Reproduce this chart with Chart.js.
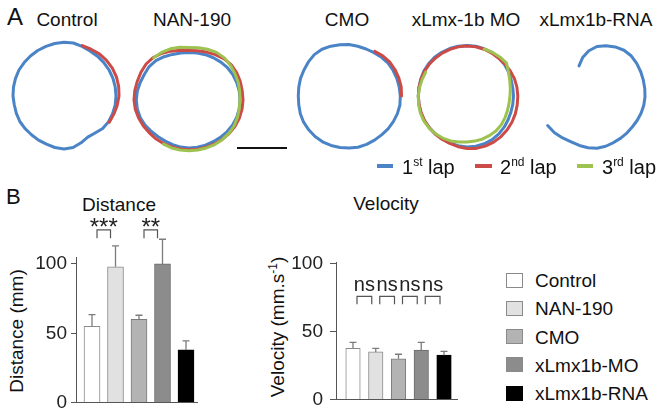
<!DOCTYPE html>
<html><head><meta charset="utf-8">
<script src="https://cdn.jsdelivr.net/npm/chart.js@4.4.0/dist/chart.umd.min.js"></script>
<style>
html,body{margin:0;padding:0;background:#fff;}
body{width:663px;height:418px;position:relative;overflow:hidden;font-family:"Liberation Sans",Arial,sans-serif;color:#111;}
.t{position:absolute;line-height:1;white-space:nowrap;}
.c{text-align:center;width:140px;}
canvas{position:absolute;}
.box{position:absolute;width:130px;height:130px;}
.box canvas{left:0;top:0;}
.sw{position:absolute;box-sizing:border-box;width:17px;height:15px;border:1px solid #888;}
.ln{position:absolute;height:4px;}
.sup{position:relative;top:-8px;font-size:12px;}
.rot{position:absolute;line-height:1;white-space:nowrap;transform:translate(-50%,-50%) rotate(-90deg);font-size:19px;}
</style></head><body>

<div class="t" style="left:7px;top:5px;font-size:24px">A</div>
<div class="t" style="left:6px;top:186px;font-size:22px">B</div>

<div class="t c" style="left:-3px;top:10px;font-size:19px">Control</div>
<div class="t c" style="left:122px;top:10px;font-size:19px">NAN-190</div>
<div class="t c" style="left:277px;top:10px;font-size:19px">CMO</div>
<div class="t c" style="left:396px;top:10px;font-size:19px">xLmx-1b MO</div>
<div class="t c" style="left:526px;top:10px;font-size:19px">xLmx1b-RNA</div>

<div class="box" id="a1" style="left:-1px;top:31px"></div>
<div class="box" id="a2" style="left:124px;top:35px"></div>
<div class="box" id="a3" style="left:284px;top:31px"></div>
<div class="box" id="a4" style="left:402px;top:31px"></div>
<div class="box" id="a5" style="left:532px;top:32px"></div>

<div style="position:absolute;left:237px;top:147px;width:50px;height:2px;background:#111"></div>

<div class="ln" style="left:377px;top:164px;width:16px;background:#4a84c6"></div>
<div class="t" style="left:402px;top:157px;font-size:20px">1<span class="sup">st</span> lap</div>
<div class="ln" style="left:475px;top:164px;width:17px;background:#cc4b47"></div>
<div class="t" style="left:500px;top:157px;font-size:20px">2<span class="sup">nd</span> lap</div>
<div class="ln" style="left:577px;top:164px;width:16px;background:#9dc24f"></div>
<div class="t" style="left:602px;top:157px;font-size:20px">3<span class="sup">rd</span> lap</div>

<div class="t c" style="left:49px;top:195px;font-size:19px">Distance</div>
<div class="t c" style="left:316px;top:194px;font-size:19px">Velocity</div>
<div class="rot" style="left:16px;top:331px">Distance (mm)</div>
<div class="rot" style="left:277px;top:327px">Velocity (mm.s<span class="sup" style="top:-7px">-1</span>)</div>

<canvas id="bd" width="210" height="238" style="left:0;top:180px"></canvas>
<canvas id="bv" width="220" height="238" style="left:250px;top:180px"></canvas>

<div id="legend"></div>

<script>
// ---------- data ----------
const angles = ['0','10','20','30','40','50','60','70','80','90','100','110','120','130','140','150','160','170',
                '180','190','200','210','220','230','240','250','260','270','280','290','300','310','320','330','340','350'];
const lapNames = ['1st lap','2nd lap','3rd lap'];
const lapColors = ['#4a84c6','#cc4b47','#9dc24f'];

const controlLap1 = [53.7,53.8,52.8,52,52,52,52,52,52,52,52,51.7,51.5,50.5,48.3,47.5,49.8,52.3,53,52.3,51.3,51,50.6,50.8,51,50.7,50.5,51,51.3,51.6,52,52,52.2,52.5,52.8,53.3];
const controlLap2 = [null,null,53.6,54,55,55.5,55.8,55.8,55.5,55,54,53,52.3,null,null,null,null,null,null,null,null,null,null,null,null,null,null,null,null,null,null,null,null,null,null,null];

const nanLap1 = [47.5,47.7,48.2,48.8,49.5,50.2,50.6,50.8,51,51,51,50.7,50.2,49.5,48.8,48.2,48,48,48,47.8,47.5,47.5,48,49,50.5,51.8,52.5,52.7,52.5,51.8,51.5,52,51.5,50,48.5,47.8];
const nanLap2 = [49.5,50,51,52.5,54,55,55,54.5,54,54,53.8,53.5,53,52.3,51.5,50.8,50.3,50,49.8,49.8,50,50.5,51,51.5,52.5,53.5,54.5,55,55,55,55.5,56,55.5,54,52,50.5];
const nanLap3 = [52.5,53,54,55,55,54,53,52.3,51.5,51,51,51.5,52,52,51.8,51.5,51,50.7,50.7,50.8,51,51,null,null,null,null,null,null,null,null,null,null,55,55,54.5,53.5];

const cmoLap1 = [51.5,50.5,50,50,50.5,51,51,51,51,51.3,51.7,51.5,51.2,51,50.7,51,51.5,52,52,52.3,52.6,52.9,52.8,52.6,52.4,51.8,51,50.7,51,51.6,52,53,54,54,53,52];
const cmoLap2 = [null,null,null,51.5,52.5,53,53,53,53,52.5,null,null,null,null,null,null,null,null,null,null,null,null,null,null,null,null,null,null,null,null,null,null,null,null,null,null];

const moLap1 = [50.5,50.5,50.3,50,49.5,49,48,47,46.5,46.5,46.5,46.8,47.5,48.5,49.5,50.3,50.8,51,51,50.5,50,49.5,49.3,49.2,49.2,49,48.8,48.7,48.8,49.2,49.8,50.2,50.5,50.5,50.5,50.5];
const moLap2 = [50,50,49.8,49.5,49.3,49.5,50,50.5,50.7,50.8,51,51.5,52,52.5,53,53.3,53.3,53.2,52.5,51.5,50.5,50,49.7,49.3,49,48.8,48.7,48.7,48.8,49,49.2,49.3,49.4,49.5,49.7,49.9];
const moLap3 = [null,null,50,50.5,51,51.4,48,45.5,44,43,42.7,43,43.8,44.8,45.3,45.5,45.7,45.8,46,46.8,47.8,48.6,49.2,49.7,49.9,49.6,49.2,48.7,48.2,47.8,47.7,null,null,null,null,null];

const rnaLap1 = [50.5,52,53.3,54,53.5,52,50.5,49.3,48.5,48,47.5,47,46.5,46.3,46.8,47.5,48.5,50,51.3,51.6,51.6,51.7,53.5,55.5,57,null,null,null,null,null,null,null,null,36,42,47];

const groups = ['Control','NAN-190','CMO','xLmx1b-MO','xLmx1b-RNA'];
const distMean = [55, 98, 60, 100, 38];
const distErr  = [8.4, 15, 3, 17.8, 6.5];
const velMean  = [37.6, 35, 30, 36.4, 32.6];
const velErr   = [4.4, 2.6, 3.3, 5.6, 2.8];
const distTicks = [0, 50, 100];
const velTicks  = [0, 50, 100];
const distSig = [[0,1,'***'],[2,3,'**']];
const velSig  = [[0,1,'ns'],[1,2,'ns'],[2,3,'ns'],[3,4,'ns']];
const barFill   = ['#ffffff','#e1e1e1','#b3b3b3','#8c8c8c','#000000'];
const barBorder = ['#8a8a8a','#8a8a8a','#7c7c7c','#6a6a6a','#000000'];

// ---------- setup ----------
Chart.defaults.font.family = '"Liberation Sans", Arial, sans-serif';
Chart.defaults.color = '#222';

// one stacked canvas per lap so later laps are drawn over earlier ones
function lapChart(id, laps) {
  const box = document.getElementById(id);
  laps.forEach((d, i) => {
    const cv = document.createElement('canvas');
    cv.width = 130; cv.height = 130;
    box.appendChild(cv);
    new Chart(cv, {
      type: 'radar',
      data: { labels: angles, datasets: [{
        label: lapNames[i], data: d, borderColor: lapColors[i], backgroundColor: lapColors[i],
        borderWidth: 3, pointRadius: 0, fill: false, tension: 0, spanGaps: false, clip: false,
        borderCapStyle: 'round', borderJoinStyle: 'round'
      }] },
      options: {
        responsive: false, animation: false, layout: { padding: 0 },
        plugins: { legend: { display: false }, tooltip: { enabled: false } },
        scales: { r: { min: 0, max: 65, startAngle: 0,
          ticks: { display: false }, grid: { display: false },
          angleLines: { display: false }, pointLabels: { display: false } } }
      }
    });
  });
}
lapChart('a1', [controlLap1, controlLap2]);
lapChart('a2', [nanLap1, nanLap2, nanLap3]);
lapChart('a3', [cmoLap1, cmoLap2]);
lapChart('a4', [moLap1, moLap2, moLap3]);
lapChart('a5', [rnaLap1]);

function annot(means, errs, sig, cfg) {
  return {
    id: 'annot',
    afterDatasetsDraw(chart) {
      const ctx = chart.ctx, xs = chart.scales.x, ys = chart.scales.y;
      ctx.save();
      ctx.strokeStyle = '#7c7c7c'; ctx.lineWidth = 1.3;
      means.forEach((m, i) => {
        const x = xs.getPixelForValue(i + 1);
        const y0 = ys.getPixelForValue(m), y1 = ys.getPixelForValue(m + errs[i]);
        ctx.beginPath(); ctx.moveTo(x, y0); ctx.lineTo(x, y1);
        ctx.moveTo(x - 3.5, y1); ctx.lineTo(x + 3.5, y1); ctx.stroke();
      });
      sig.forEach(p => {
        const xa = xs.getPixelForValue(p[0] + 1) + cfg.inset, xb = xs.getPixelForValue(p[1] + 1) - cfg.inset;
        const yt = ys.getPixelForValue(cfg.top), yb = ys.getPixelForValue(cfg.leg);
        ctx.strokeStyle = '#555'; ctx.lineWidth = 1.2;
        ctx.beginPath(); ctx.moveTo(xa, yb); ctx.lineTo(xa, yt); ctx.lineTo(xb, yt); ctx.lineTo(xb, yb); ctx.stroke();
        ctx.fillStyle = '#222'; ctx.font = cfg.font; ctx.textAlign = 'center'; ctx.textBaseline = 'alphabetic';
        ctx.fillText(p[2], (xa + xb) / 2, ys.getPixelForValue(cfg.text));
      });
      ctx.restore();
    }
  };
}

function barChart(id, means, errs, ticks, sig, o) {
  new Chart(document.getElementById(id), {
    type: 'bar',
    data: { datasets: [{
      data: groups.map((g, i) => ({ x: i + 1, y: means[i] })),
      backgroundColor: barFill, borderColor: barBorder, borderWidth: 1, barThickness: o.barW
    }] },
    options: {
      responsive: false, animation: false,
      layout: { padding: o.pad },
      plugins: { legend: { display: false }, tooltip: { enabled: false } },
      scales: {
        x: { type: 'linear', min: o.xMin, max: o.xMax, offset: false,
             ticks: { display: false }, grid: { display: false, drawTicks: false, offset: false },
             border: { display: true, color: '#555', width: 1 } },
        y: { min: 0, max: o.yMax,
             afterBuildTicks: s => { s.ticks = ticks.map(v => ({ value: v })); },
             afterFit: s => { s.width = o.yW; },
             ticks: { font: { size: 19 }, color: '#222', padding: o.tickPad },
             grid: { drawOnChartArea: false, drawTicks: true, tickLength: o.tickLen, color: '#555' },
             border: { display: true, color: '#555', width: 1 } }
      }
    },
    plugins: [annot(means, errs, sig, o.sig)]
  });
}

barChart('bd', distMean, distErr, distTicks, distSig, {
  barW: 16, xMin: 0.319, xMax: 5.468, yMax: 105, yW: 76, tickLen: 5, tickPad: 4,
  pad: { top: 77, bottom: 15, left: 0, right: 13 },
  sig: { inset: 5, top: 124.5, leg: 118.5, text: 120.9, font: '24px "Liberation Sans", Arial, sans-serif' }
});
barChart('bv', velMean, velErr, velTicks, velSig, {
  barW: 14.5, xMin: 0.253, xMax: 5.571, yMax: 101, yW: 86, tickLen: 6, tickPad: 7,
  pad: { top: 82, bottom: 15, left: 0, right: 13 },
  sig: { inset: 4, top: 75.8, leg: 70, text: 79.4, font: '20px "Liberation Sans", Arial, sans-serif' }
});

// legend
const legBase = [287, 315.3, 343.6, 371.9, 400.2];
const leg = document.getElementById('legend');
groups.forEach((g, i) => {
  const b = document.createElement('div'); b.className = 'sw';
  b.style.left = '506px'; b.style.top = (legBase[i] - 14.5) + 'px';
  b.style.background = barFill[i]; b.style.borderColor = i === 4 ? '#000' : '#8a8a8a';
  leg.appendChild(b);
  const t = document.createElement('div'); t.className = 't';
  t.style.left = '535px'; t.style.top = (legBase[i] - 16.1) + 'px'; t.style.fontSize = '19px';
  t.textContent = g; leg.appendChild(t);
});
</script>
</body></html>
